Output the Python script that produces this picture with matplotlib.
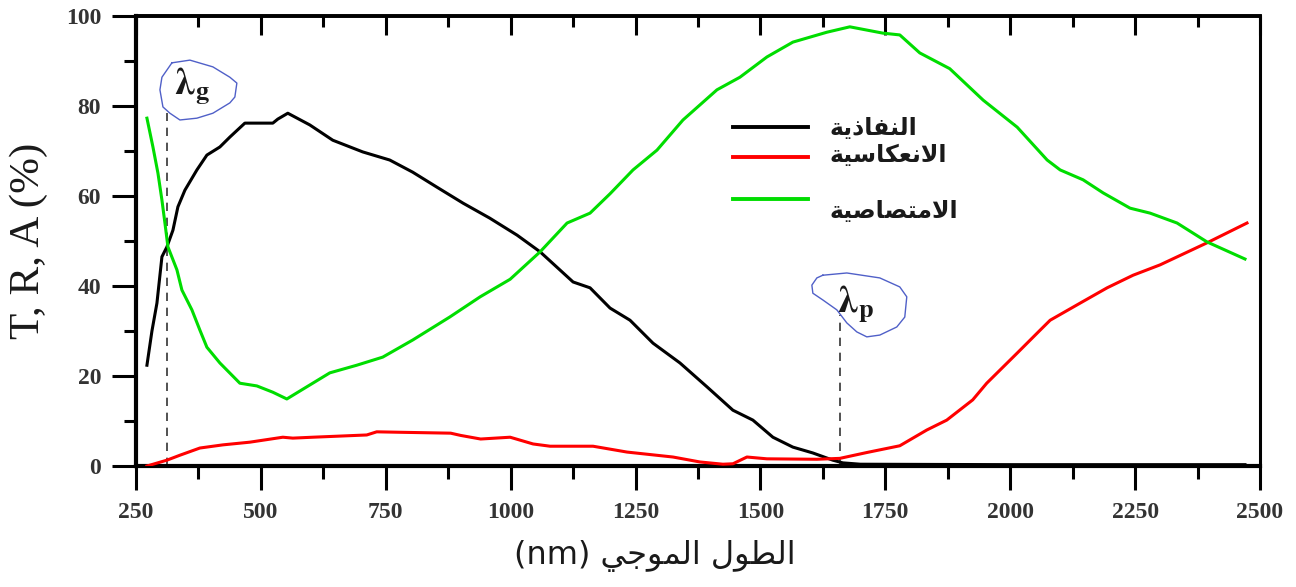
"""Optical spectra (T, R, A) versus wavelength, with the gap and plasma wavelengths marked."""
import matplotlib
matplotlib.use("Agg")
import matplotlib.pyplot as plt
from matplotlib.ticker import MultipleLocator

# Transmittance (black)
T_NM = [272, 282, 292, 302, 312, 324, 334, 348, 372, 392, 418, 438, 468, 524, 534, 554,
        598, 644, 704, 758, 804, 852, 905, 958, 1013, 1059, 1125, 1159, 1199, 1239, 1285,
        1339, 1393, 1445, 1485, 1525, 1565, 1605, 1645, 1665, 1700, 2000, 2470]
T_VAL = [22.4, 30.0, 36.2, 46.5, 48.7, 52.4, 57.6, 61.3, 65.8, 69.1, 70.9, 73.1, 76.2, 76.2,
         77.1, 78.4, 75.8, 72.4, 69.8, 68.0, 65.3, 62.0, 58.4, 55.1, 51.3, 47.6, 40.9, 39.6,
         35.1, 32.4, 27.3, 22.9, 17.6, 12.4, 10.2, 6.4, 4.2, 2.9, 1.3, 0.7, 0.4, 0.3, 0.3]

# Reflectance (red)
R_NM = [272, 312, 338, 378, 424, 478, 544, 564, 604, 712, 732, 778, 880, 900, 940, 999,
        1045, 1079, 1165, 1233, 1325, 1379, 1425, 1445, 1473, 1513, 1613, 1659, 1713, 1779,
        1833, 1873, 1925, 1953, 2014, 2060, 2080, 2140, 2194, 2246, 2300, 2394, 2474]
R_VAL = [0.0, 1.3, 2.4, 4.0, 4.7, 5.3, 6.4, 6.2, 6.4, 6.9, 7.6, 7.5, 7.3, 6.8, 6.0, 6.4,
         4.9, 4.4, 4.4, 3.1, 2.0, 0.9, 0.4, 0.5, 2.0, 1.6, 1.5, 1.7, 3.0, 4.5, 8.0, 10.2,
         14.7, 18.4, 25.1, 30.2, 32.4, 36.2, 39.6, 42.4, 44.7, 49.6, 54.0]

# Absorbance (green)
A_NM = [272, 284, 294, 302, 308, 314, 332, 342, 362, 378, 392, 418, 458, 492, 524, 552,
        592, 638, 692, 744, 804, 878, 939, 999, 1059, 1113, 1159, 1199, 1245, 1293, 1345,
        1413, 1459, 1513, 1565, 1633, 1679, 1745, 1779, 1819, 1879, 1946, 2014, 2074, 2100,
        2146, 2186, 2240, 2280, 2334, 2394, 2470]
A_VAL = [77.3, 70.9, 65.1, 59.1, 54.0, 48.7, 43.6, 39.1, 34.7, 30.2, 26.4, 22.9, 18.4, 17.8,
         16.4, 14.9, 17.6, 20.7, 22.4, 24.2, 28.0, 33.1, 37.6, 41.5, 47.6, 54.0, 56.2, 60.5,
         65.8, 70.2, 76.9, 83.6, 86.4, 90.9, 94.2, 96.4, 97.6, 96.2, 95.8, 91.8, 88.3, 81.3,
         75.3, 68.0, 65.8, 63.6, 60.7, 57.3, 56.2, 54.0, 49.8, 46.0]

LABEL_T = "النفاذية"
LABEL_R = "الانعكاسية"
LABEL_A = "الامتصاصية"
X_LABEL = "الطول الموجي (nm)"
Y_LABEL = "T, R, A (%)"

X_TICKS = [250, 500, 750, 1000, 1250, 1500, 1750, 2000, 2250, 2500]
Y_TICKS = [0, 20, 40, 60, 80, 100]

# marked wavelengths and the height of their dashed guides
LAMBDA_G, LAMBDA_G_TOP = 313, 78.4
LAMBDA_P, LAMBDA_P_TOP = 1660, 33.5

# hand drawn outlines around the two labels (data units)
G_BLOB_NM = [322, 358, 404, 438, 452, 448, 438, 404, 372, 338, 318, 304, 298, 302, 312, 322]
G_BLOB_PC = [89.6, 90.2, 88.7, 86.4, 85.1, 82.0, 80.7, 78.4, 77.3, 76.9, 78.4, 79.8, 83.6,
             86.4, 88.0, 89.6]
P_BLOB_NM = [1625, 1673, 1739, 1779, 1793, 1789, 1773, 1739, 1713, 1693, 1673, 1653, 1625,
             1605, 1603, 1613, 1625]
P_BLOB_PC = [42.4, 42.9, 41.8, 39.8, 37.6, 33.1, 30.9, 29.1, 28.7, 29.8, 31.8, 34.7, 36.9,
             38.4, 40.2, 41.8, 42.4]

BLACK = "#000000"
RED = "#ff0000"
GREEN = "#00dd00"
BLOB = "#5060c8"
INK = "#1a1a1a"

# matplotlib does no Arabic shaping, so pick the joined presentation forms by hand
JOIN_FORMS = {
    "\u0627": ("\ufe8d", "\ufe8e", None, None),
    "\u0629": ("\ufe93", "\ufe94", None, None),
    "\u062a": ("\ufe95", "\ufe96", "\ufe97", "\ufe98"),
    "\u062c": ("\ufe9d", "\ufe9e", "\ufe9f", "\ufea0"),
    "\u0630": ("\ufeab", "\ufeac", None, None),
    "\u0633": ("\ufeb1", "\ufeb2", "\ufeb3", "\ufeb4"),
    "\u0635": ("\ufeb9", "\ufeba", "\ufebb", "\ufebc"),
    "\u0637": ("\ufec1", "\ufec2", "\ufec3", "\ufec4"),
    "\u0639": ("\ufec9", "\ufeca", "\ufecb", "\ufecc"),
    "\u0641": ("\ufed1", "\ufed2", "\ufed3", "\ufed4"),
    "\u0643": ("\ufed9", "\ufeda", "\ufedb", "\ufedc"),
    "\u0644": ("\ufedd", "\ufede", "\ufedf", "\ufee0"),
    "\u0645": ("\ufee1", "\ufee2", "\ufee3", "\ufee4"),
    "\u0646": ("\ufee5", "\ufee6", "\ufee7", "\ufee8"),
    "\u0648": ("\ufeed", "\ufeee", None, None),
    "\u064a": ("\ufef1", "\ufef2", "\ufef3", "\ufef4"),
}
LAM_ALEF = ("\ufefb", "\ufefc")


def shape_word(word):
    glyphs = []
    prev_joins = False
    i = 0
    while i < len(word):
        ch = word[i]
        if ch == "\u0644" and i + 1 < len(word) and word[i + 1] == "\u0627":
            glyphs.append(LAM_ALEF[1] if prev_joins else LAM_ALEF[0])
            prev_joins = False
            i += 2
            continue
        forms = JOIN_FORMS.get(ch)
        if forms is None:
            glyphs.append(ch)
            prev_joins = False
            i += 1
            continue
        next_joins = forms[2] is not None and i + 1 < len(word) and word[i + 1] in JOIN_FORMS
        if prev_joins and next_joins:
            glyphs.append(forms[3])
        elif next_joins:
            glyphs.append(forms[2])
        elif prev_joins:
            glyphs.append(forms[1])
        else:
            glyphs.append(forms[0])
        prev_joins = next_joins
        i += 1
    return "".join(reversed(glyphs))


def arabic(text):
    words = text.split(" ")
    return " ".join(shape_word(w) if any(c in JOIN_FORMS for c in w) else w
                    for w in reversed(words))


fig = plt.figure(figsize=(12.96, 5.87), dpi=100)
ax = fig.add_axes([0.1049, 0.2061, 0.8673, 0.7666])

ax.plot(T_NM, T_VAL, color=BLACK, lw=2.2, zorder=3)
ax.plot(R_NM, R_VAL, color=RED, lw=2.2, zorder=3)
ax.plot(A_NM, A_VAL, color=GREEN, lw=2.2, zorder=3)

ax.plot([LAMBDA_G, LAMBDA_G], [0, LAMBDA_G_TOP], color="#333333", lw=1.2, ls=(0, (5, 4)), zorder=2)
ax.plot([LAMBDA_P, LAMBDA_P], [0, LAMBDA_P_TOP], color="#333333", lw=1.2, ls=(0, (5, 4)), zorder=2)
ax.plot(G_BLOB_NM, G_BLOB_PC, color=BLOB, lw=1.0, zorder=2)
ax.plot(P_BLOB_NM, P_BLOB_PC, color=BLOB, lw=1.0, zorder=2)

ax.text(362, 84.5, r"$\mathbf{\lambda_g}$", math_fontfamily="stix", fontsize=27,
        ha="center", va="center", color=INK)
ax.text(1690, 36.0, r"$\mathbf{\lambda_p}$", math_fontfamily="stix", fontsize=27,
        ha="center", va="center", color=INK)

# legend drawn by hand: the third entry's text sits below its line
legend_rows = [(BLACK, 0.753, LABEL_T, 0.751), (RED, 0.687, LABEL_R, 0.691), (GREEN, 0.593, LABEL_A, 0.567)]
for color, line_y, label, text_y in legend_rows:
    ax.plot([0.531, 0.598], [line_y, line_y], color=color, lw=2.8, transform=ax.transAxes)
    ax.text(0.617, text_y, arabic(label), transform=ax.transAxes, fontsize=17,
            family=["DejaVu Sans"], weight="bold", ha="left", va="center", color=INK)

ax.set_xlim(250, 2500)
ax.set_ylim(0, 100)
ax.set_xticks(X_TICKS)
ax.set_yticks(Y_TICKS)
ax.xaxis.set_minor_locator(MultipleLocator(125))
ax.yaxis.set_minor_locator(MultipleLocator(10))

tick_font = {"family": "Liberation Serif", "weight": "bold", "size": 17}
ax.set_xticklabels([str(v) for v in X_TICKS], fontdict=tick_font, color="#333333")
ax.set_yticklabels([str(v) for v in Y_TICKS], fontdict=tick_font, color="#333333")

ax.tick_params(axis="both", which="major", direction="out", length=17, width=2.2, color=BLACK)
ax.tick_params(axis="both", which="minor", direction="out", length=9, width=2.2, color=BLACK)
ax.tick_params(axis="x", pad=9)
ax.tick_params(axis="y", pad=8)
ax.tick_params(top=False, right=False, which="both")

top = ax.secondary_xaxis("top")
top.set_xticks(X_TICKS)
top.xaxis.set_minor_locator(MultipleLocator(125))
top.tick_params(which="major", direction="in", length=14, width=2.2, labeltop=False)
top.tick_params(which="minor", direction="in", length=8, width=2.2)
top.spines["top"].set_linewidth(2.6)

for side in ("left", "bottom"):
    ax.spines[side].set_linewidth(3.0)
ax.spines["right"].set_linewidth(2.2)
ax.spines["top"].set_linewidth(2.6)

ax.set_ylabel(Y_LABEL, family="Liberation Serif", fontsize=31, color=INK)
ax.yaxis.set_label_coords(-0.078, 0.5)
ax.set_xlabel(arabic(X_LABEL), family=["DejaVu Sans"], fontsize=23, color=INK)
ax.xaxis.set_label_coords(0.462, -0.165)

fig.savefig("out.png", dpi=100, facecolor="white")
